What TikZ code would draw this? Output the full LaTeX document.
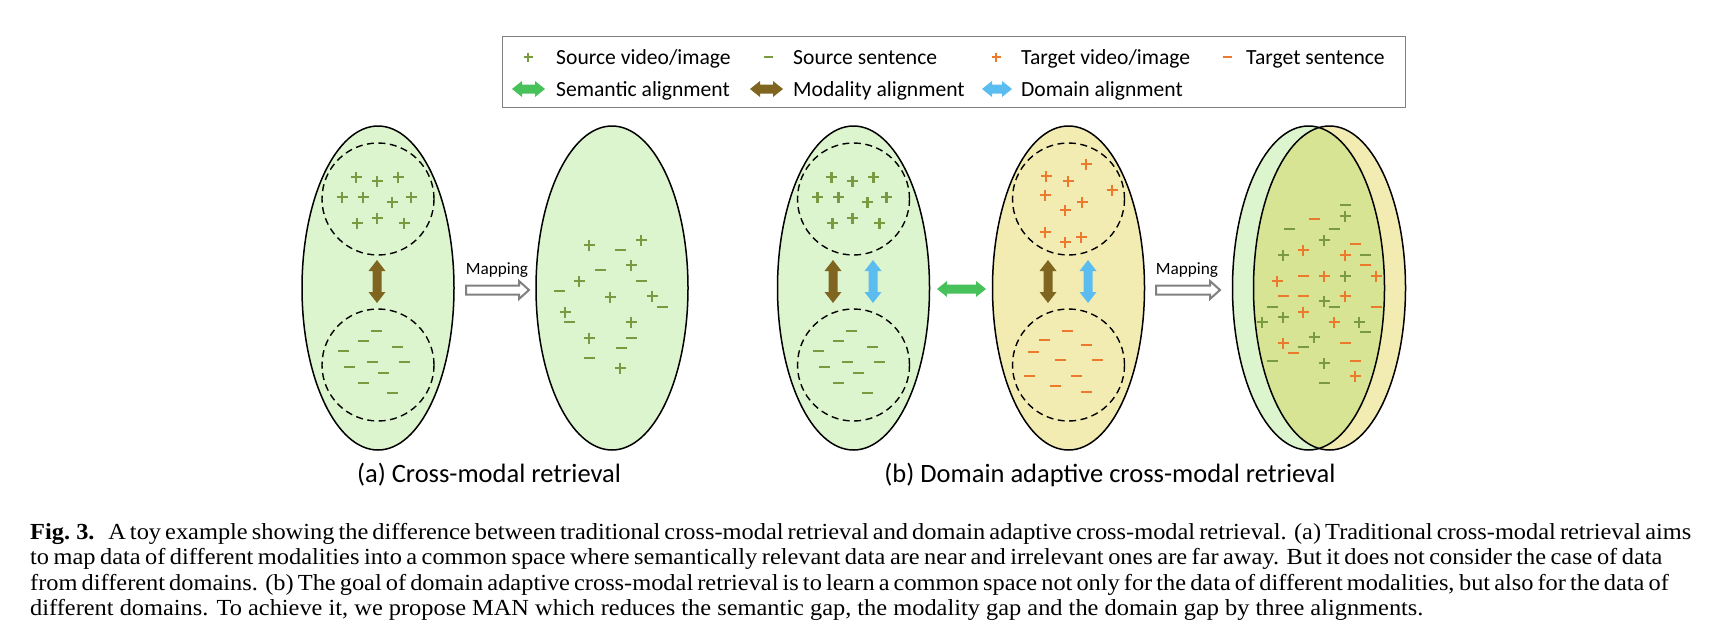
\documentclass[tikz,border=0pt]{standalone}
\usepackage{fontspec}
\setmainfont{Carlito}
\newfontfamily\capfont[FakeStretch=1.06]{Liberation Serif}
\definecolor{lg}{HTML}{DDF5CE}
\definecolor{ly}{HTML}{F3ECB2}
\definecolor{lo}{HTML}{D6E494}
\definecolor{gsym}{HTML}{7A9A42}
\definecolor{osym}{HTML}{EC7A2C}
\definecolor{brn}{HTML}{7F6520}
\definecolor{blu}{HTML}{5BBCF0}
\definecolor{grn}{HTML}{47C25A}
\definecolor{mgray}{HTML}{808080}
\newcommand\Pl[3]{\draw[#3,line width=2.2pt] (#1,#2) ++(-5.5,0) -- ++(11,0) (#1,#2) ++(0,-5.5) -- ++(0,11);}
\newcommand\Mn[3]{\draw[#3,line width=2.2pt] (#1,#2) ++(-5.5,0) -- ++(11,0);}
\newcommand\SPl[3]{\draw[#3,line width=1.6pt] (#1,#2) ++(-4.5,0) -- ++(9,0) (#1,#2) ++(0,-4.5) -- ++(0,9);}
\newcommand\SMn[3]{\draw[#3,line width=1.6pt] (#1,#2) ++(-4.5,0) -- ++(9,0);}
% vertical double arrow: x, ytop, ybot, colour
\newcommand\VArr[4]{\fill[#4] (#1,#2) -- ++(8.5,11) -- ++(-4,0) -- (#1+4.5,#3-11) -- ++(4,0) -- (#1,#3) -- ++(-8.5,-11) -- ++(4,0) -- (#1-4.5,#2+11) -- ++(-4,0) -- cycle;}
% horizontal double arrow: xleft, xright, y, colour
\newcommand\HArr[4]{\fill[#4] (#1,#3) -- ++(10,-8) -- ++(0,3.5) -- (#2-10,#3-4.5) -- ++(0,-3.5) -- (#2,#3) -- ++(-10,8) -- ++(0,-3.5) -- (#1+10,#3+4.5) -- ++(0,3.5) -- cycle;}
% hollow mapping arrow: xleft, xright, y
\newcommand\MapArr[3]{\draw[mgray,line width=2pt,fill=white,line join=miter] (#1,#3-4.5) -- (#2-10,#3-4.5) -- (#2-10,#3-9) -- (#2,#3) -- (#2-10,#3+9) -- (#2-10,#3+4.5) -- (#1,#3+4.5) -- cycle;}
\tikzset{
  space/.style={draw=black,line width=1.5pt},
  dcirc/.style={draw=black,line width=1.4pt,dash pattern=on 7pt off 4.5pt},
  maplabel/.style={font=\fontsize{17.2}{20}\selectfont,inner sep=0pt,anchor=base},
  sublabel/.style={font=\fontsize{26.5}{30}\selectfont,inner sep=0pt,anchor=base},
  legtext/.style={font=\fontsize{21.6}{26}\selectfont,inner sep=0pt,anchor=base west},
  captext/.style={font=\capfont\fontsize{23}{25}\selectfont,inner sep=0pt,anchor=base west},
}
\begin{document}
\begin{tikzpicture}[x=1pt,y=-1pt]
\useasboundingbox (0,0) rectangle (1710,632);
\fill[white] (0,0) rectangle (1710,632);

% ---------------- legend ----------------
\draw[mgray,line width=1pt] (502,36) rectangle (1405,107);
\SPl{528}{57}{gsym}
\node[legtext] (l1) at (556,64) {Source video/image};
\SMn{768}{57}{gsym}
\node[legtext] (l2) at (793,64) {Source sentence};
\SPl{996}{57}{osym}
\node[legtext] (l3) at (1021,64) {Target video/image};
\SMn{1227}{57}{osym}
\node[legtext] (l4) at (1246,64) {Target sentence};
\HArr{512}{545}{89}{grn}
\node[legtext] (l5) at (556,96) {Semantic alignment};
\HArr{750}{783}{89}{brn}
\node[legtext] (l6) at (793,96) {Modality alignment};
\HArr{982}{1012}{89}{blu}
\node[legtext] (l7) at (1021,96) {Domain alignment};

% ---------------- (a) ----------------
\filldraw[fill=lg,space] (378,288) ellipse [x radius=76pt, y radius=162pt];
\draw[dcirc] (378,199) circle [radius=56pt];
\draw[dcirc] (378,365) circle [radius=56pt];
\foreach \x/\y in {356/177,377/181,398/177,342/197,363/197,392/202,411/197,357/223,377/218,404/223}{\Pl{\x}{\y}{gsym}}
\foreach \x/\y in {376/331,363/341,343/351,397/347,349/367,372/362,404/362,383/373,363/383,392/393}{\Mn{\x}{\y}{gsym}}
\VArr{377}{260}{303}{brn}

\node[maplabel] (m1) at (497,274) {Mapping};
\MapArr{466}{529}{290}

\filldraw[fill=lg,space] (612,288) ellipse [x radius=76pt, y radius=162pt];
\foreach \x/\y in {589/245,641/240,631/265,579/281,610/297,652/296,565/312,631/322,589/338,620/368}{\Pl{\x}{\y}{gsym}}
\foreach \x/\y in {620/250,600/270,641/281,559/291,662/307,569/322,631/338,621/348,589/358}{\Mn{\x}{\y}{gsym}}

\node[sublabel] (ca) at (489,482) {(a) Cross-modal retrieval};

% ---------------- (b) ----------------
\filldraw[fill=lg,space] (853.5,288) ellipse [x radius=76pt, y radius=162pt];
\draw[dcirc] (853.5,199) circle [radius=56pt];
\draw[dcirc] (853.5,365) circle [radius=56pt];
\begin{scope}[shift={(475.5,0)}]
\foreach \x/\y in {356/177,377/181,398/177,342/197,363/197,392/202,411/197,357/223,377/218,404/223}{\Pl{\x}{\y}{gsym}}
\foreach \x/\y in {376/331,363/341,343/351,397/347,349/367,372/362,404/362,383/373,363/383,392/393}{\Mn{\x}{\y}{gsym}}
\end{scope}
\VArr{833}{260}{303}{brn}
\VArr{873}{260}{303}{blu}

\HArr{937}{986}{289}{grn}

\filldraw[fill=ly,space] (1068.5,288) ellipse [x radius=76pt, y radius=162pt];
\draw[dcirc] (1068.5,199) circle [radius=56pt];
\draw[dcirc] (1068.5,365) circle [radius=56pt];
\foreach \x/\y in {1086/164,1046/176,1068/181,1045/195,1112/190,1082/202,1065/210,1045/232,1065/242,1081/237}{\Pl{\x}{\y}{osym}}
\foreach \x/\y in {1067/331,1044/340,1086/345,1033/352,1060/360,1097/360,1029/376,1076/376,1055/386,1086/392}{\Mn{\x}{\y}{osym}}
\VArr{1048}{260}{303}{brn}
\VArr{1088}{260}{303}{blu}

\node[maplabel] (m2) at (1187,274) {Mapping};
\MapArr{1156}{1220}{290}

% common space
\fill[lg] (1308.5,288) ellipse [x radius=76pt, y radius=162pt];
\fill[ly] (1329.5,288) ellipse [x radius=76pt, y radius=162pt];
\begin{scope}
\clip (1308.5,288) ellipse [x radius=76pt, y radius=162pt];
\fill[lo] (1329.5,288) ellipse [x radius=76pt, y radius=162pt];
\end{scope}
\draw[space] (1308.5,288) ellipse [x radius=76pt, y radius=162pt];
\draw[space] (1329.5,288) ellipse [x radius=76pt, y radius=162pt];
\foreach \x/\y in {1345/205,1289/229,1334/229,1365/255,1272/307,1334/307,1365/332,1303/347,1272/361,1324/383}{\Mn{\x}{\y}{gsym}}
\foreach \x/\y in {1345/216,1324/240,1283/255,1345/276,1324/301,1283/317,1262/322,1359/322,1314/337,1324/363}{\Pl{\x}{\y}{gsym}}
\foreach \x/\y in {1314/219,1355/244,1365/265,1303/276,1283/296,1303/296,1376/307,1345/343,1293/353,1355/361}{\Mn{\x}{\y}{osym}}
\foreach \x/\y in {1303/250,1345/255,1277/281,1324/276,1376/276,1345/296,1303/312,1334/322,1283/343,1355/376}{\Pl{\x}{\y}{osym}}

\node[sublabel] (cb) at (1110,482) {(b) Domain adaptive cross-modal retrieval};

% ---------------- caption ----------------
\node[captext] (t1) at (30,539) {\makebox[1632pt][s]{\mbox{\textbf{Fig.\ 3.}\hspace{0.6em}A} toy example showing the difference between traditional cross-modal retrieval and domain adaptive cross-modal retrieval. (a) Traditional cross-modal retrieval aims}};
\node[captext] (t2) at (30,564.5) {\makebox[1632pt][s]{to map data of different modalities into a common space where semantically relevant data are near and irrelevant ones are far away. But it does not consider the case of data}};
\node[captext] (t3) at (30,590) {\makebox[1632pt][s]{from different domains. (b) The goal of domain adaptive cross-modal retrieval is to learn a common space not only for the data of different modalities, but also for the data of}};
\node[captext] (t4) at (30,615.5) {different domains. To achieve it, we propose MAN which reduces the semantic gap, the modality gap and the domain gap by three alignments.};
\end{tikzpicture}
\end{document}
